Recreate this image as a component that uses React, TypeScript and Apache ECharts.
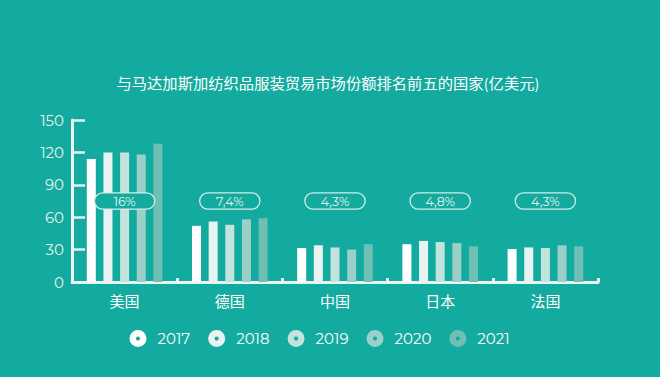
import React, { useEffect, useRef } from "react";
import * as echarts from "echarts";

const categories = ["美国", "德国", "中国", "日本", "法国"];
const years = ["2017", "2018", "2019", "2020", "2021"];
const values2017 = [114, 52, 31.5, 35, 30.5];
const values2018 = [120, 56, 34, 38, 32];
const values2019 = [120, 53, 32, 37, 31.5];
const values2020 = [118, 58, 30, 36, 34];
const values2021 = [128, 59, 35, 33, 33];
const shareLabels = ["16%", "7,4%", "4,3%", "4,8%", "4,3%"];
const shareLevel = [75, 75, 75, 75, 75];
const yTicks = [0, 30, 60, 90, 120, 150];

const BG = "#13ab9f";
const colors = ["#ffffff", "#e9f4f2", "#c2e3de", "#9bd0c9", "#6fbfb5"];
const FONT = "Montserrat, 'Open Sans', 'Noto Sans CJK SC', sans-serif";
const ringIcon =
  "path://M0,-8 A8,8 0 1,1 0,8 A8,8 0 1,1 0,-8 Z M0,-2 A2,2 0 1,0 0,2 A2,2 0 1,0 0,-2 Z";

export default function App() {
  const ref = useRef<HTMLDivElement>(null);
  useEffect(() => {
    if (!ref.current) return;
    const chart = echarts.init(ref.current, undefined, { renderer: "svg" });
    const seriesValues = [values2017, values2018, values2019, values2020, values2021];
    chart.setOption({
      animation: false,
      backgroundColor: BG,
      textStyle: { fontFamily: FONT },
      title: {
        text: "与马达加斯加纺织品服装贸易市场份额排名前五的国家(亿美元)",
        left: 323,
        textAlign: "center",
        top: 71,
        textStyle: { color: "#ffffff", fontSize: 15.3, fontWeight: "normal", fontFamily: FONT },
      },
      legend: {
        data: years.map((y, i) => ({ name: y, icon: ringIcon, itemStyle: { color: colors[i] } })),
        left: 124.5,
        top: 325,
        itemWidth: 17,
        itemHeight: 17,
        itemGap: 18,
        textStyle: { color: "#ffffff", fontSize: 15, fontFamily: FONT, padding: [0, 0, 0, 6] },
      },
      grid: { left: 72, right: 62, top: 120, bottom: 95, containLabel: false },
      xAxis: {
        type: "category",
        data: categories,
        axisLine: { show: true, lineStyle: { color: "#e9f4f2", width: 3 } },
        axisTick: { show: true, inside: true, length: 4, lineStyle: { color: "#e9f4f2", width: 3 } },
        axisLabel: { color: "#ffffff", fontSize: 15, margin: 12, fontFamily: FONT },
      },
      yAxis: {
        type: "value",
        min: yTicks[0],
        max: yTicks[yTicks.length - 1],
        interval: 30,
        splitLine: { show: false },
        axisLine: { show: true, lineStyle: { color: "#e9f4f2", width: 3 } },
        axisTick: { show: true, inside: true, length: 13, lineStyle: { color: "#e9f4f2", width: 2.5 } },
        axisLabel: { color: "#e4f2f0", fontSize: 15, margin: 8, fontFamily: FONT },
      },
      series: [
        ...years.map((y, i) => ({
          name: y,
          type: "bar",
          data: seriesValues[i],
          barWidth: 9,
          barGap: "85%",
          itemStyle: { color: colors[i] },
        })),
        {
          name: "share",
          type: "scatter",
          data: shareLevel,
          symbolSize: 0,
          itemStyle: { color: BG, opacity: 1 },
          z: 10,
          label: {
            show: true,
            position: "inside",
            formatter: (p: any) => shareLabels[p.dataIndex],
            color: "#e8f4f2",
            fontSize: 12.5,
            fontFamily: FONT,
            backgroundColor: BG,
            borderColor: "#d4ece8",
            borderWidth: 1.3,
            borderRadius: 8,
            width: 51,
            height: 12,
            lineHeight: 12,
            align: "center",
            verticalAlign: "middle",
            padding: [1.5, 4],
            opacity: 1,
          },
        },
      ],
    });
    return () => chart.dispose();
  }, []);
  return <div ref={ref} style={{ width: 660, height: 377, position: "absolute", left: 0, top: 0 }} />;
}
